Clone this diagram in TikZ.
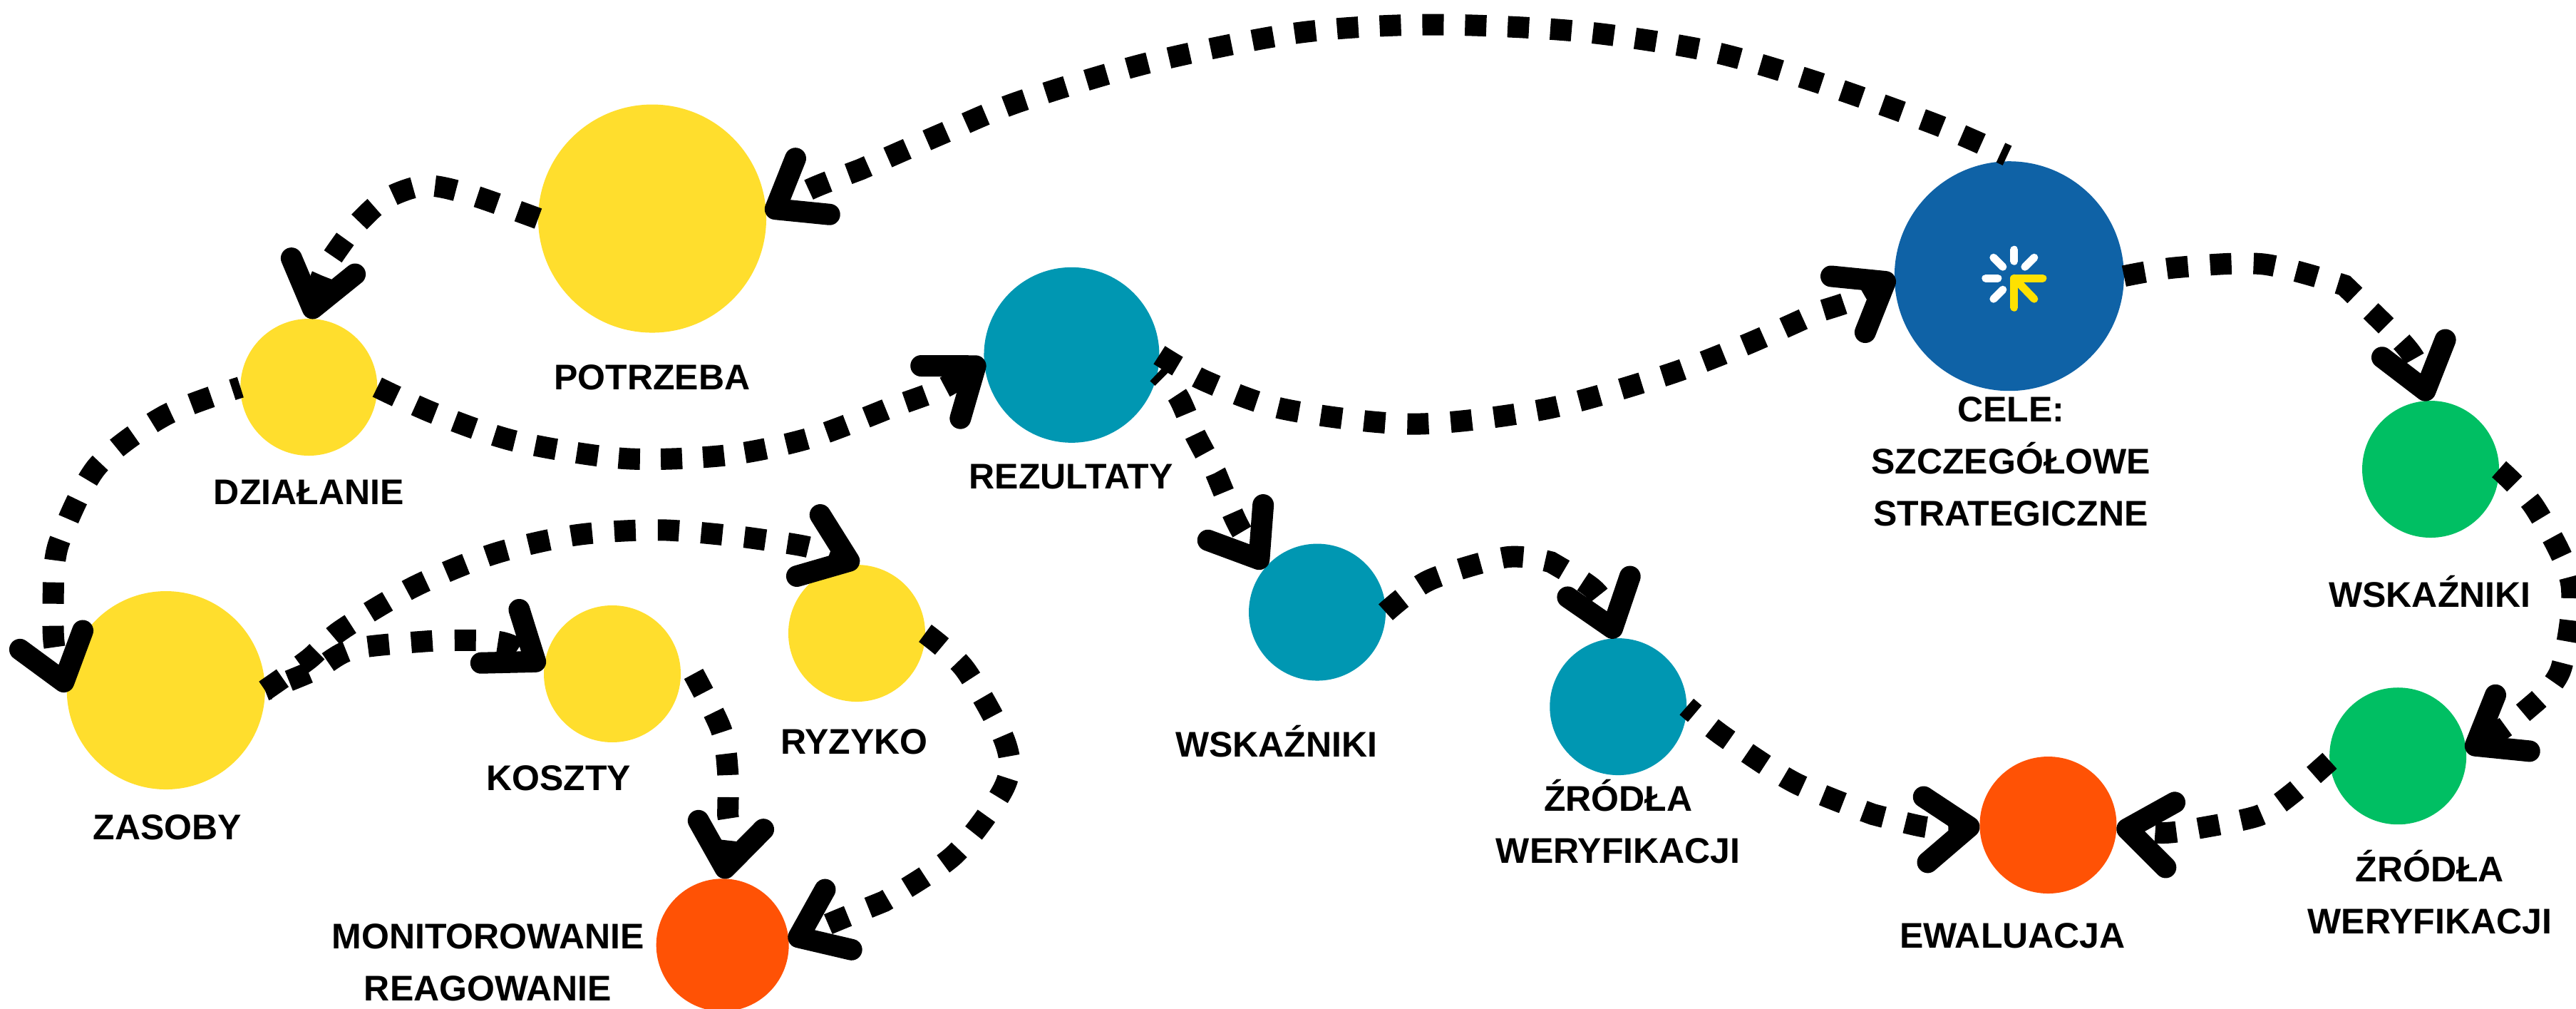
\documentclass[tikz,border=0pt]{standalone}
\usepackage{fontspec}
\setmainfont{Liberation Sans}
\usetikzlibrary{arrows.meta}
\definecolor{cyel}{HTML}{FFDE2D}
\definecolor{cteal}{HTML}{0097B2}
\definecolor{cblue}{HTML}{0F62A6}
\definecolor{cgreen}{HTML}{00BF63}
\definecolor{corange}{HTML}{FF5205}
\definecolor{cicon}{HTML}{FFE100}
\tikzset{
 dot/.style={circle,inner sep=0pt,outer sep=0pt,draw=none,minimum size=#1},
 lab/.style={inner sep=0pt,align=center,font=\fontsize{50}{73}\selectfont\bfseries},
 conn/.style={draw=black,line width=30pt,dash pattern=on 30pt off 31pt,
   -{Straight Barb[length=61pt,width=92pt,line width=30pt,round]}},
 ray/.style={line width=11pt,line cap=round,line join=round},
}
\begin{document}
\begin{tikzpicture}[x=2.3048pt,y=-2.3048pt]
\useasboundingbox (0,0) rectangle (1568,613.5);
\path
 (397,133) node[dot=320pt,fill=cyel] (potrzeba) {}
 (188,235.6) node[dot=192pt,fill=cyel] (dzial) {}
 (101,420) node[dot=278pt,fill=cyel] (zasoby) {}
 (372.7,410) node[dot=192pt,fill=cyel] (koszty) {}
 (521.5,385.3) node[dot=192pt,fill=cyel] (ryzyko) {}
 (439.8,575) node[dot=186pt,fill=corange] (monit) {}
 (652.3,216) node[dot=246pt,fill=cteal] (rezul) {}
 (801.8,372.5) node[dot=192pt,fill=cteal] (wskb) {}
 (985,430) node[dot=192pt,fill=cteal] (zrob) {}
 (1223,168) node[dot=322pt,fill=cblue] (cele) {}
 (1246.7,502) node[dot=192pt,fill=corange] (ewal) {}
 (1479.5,285.5) node[dot=192pt,fill=cgreen] (wskg) {}
 (1459.6,460) node[dot=192pt,fill=cgreen] (zrog) {};
% labels
\node[lab] (l1) at (397,229.5) {POTRZEBA};
\node[lab] (l2) at (188,299.5) {DZIAŁANIE};
\node[lab] (l3) at (652,290) {REZULTATY};
\node[lab] (l4) at (1224,281) {CELE:\\SZCZEGÓŁOWE\\STRATEGICZNE};
\node[lab] (l5) at (1479,360) {WSKAŹNIKI};
\node[lab] (l6) at (777,451) {WSKAŹNIKI};
\node[lab] (l7) at (985,500) {ŹRÓDŁA\\WERYFIKACJI};
\node[lab] (l8) at (1479,543) {ŹRÓDŁA\\WERYFIKACJI};
\node[lab] (l9) at (1225,569.5) {EWALUACJA};
\node[lab] (l10) at (340,473.5) {KOSZTY};
\node[lab] (l11) at (520,451.5) {RYZYKO};
\node[lab] (l12) at (102,503.5) {ZASOBY};
\node[lab] (l13) at (297,585.5) {MONITOROWANIE\\REAGOWANIE};
% connectors
\draw[conn,dash pattern=on 30pt off 29.9pt,dash phase=20pt] plot[smooth] coordinates {([yshift=8pt]cele.91) (1179,76) (1106,50) (1040,31) (960,19) (870,15) (790,20) (700,38) (620,62) (572,82) (524,103)} .. controls (492,115) and (492,115) .. (potrzeba.2.5);
\draw[conn] plot[smooth] coordinates {(potrzeba.west) (285,118) (258,113) (233,122) (214,140)} .. controls (196,165) and (196,165) .. (dzial.89);
\draw[conn,dash phase=18pt] plot[smooth] coordinates {(dzial.west) (100,253) (59,284) (36,330) (32.5,356)} .. controls (32,392) and (32,392) .. (zasoby.181);
\draw[conn,dash pattern=on 30pt off 29.2pt] plot[smooth] coordinates {(dzial.east) (264.6,251.6) (314,268.5) (380,279) (442,277) (493,266.5) (542,248)} .. controls (575.5,236.4) and (575.5,236.4) .. (rezul.183.3);
\draw[conn] plot[smooth] coordinates {(rezul.east) (734,232) (782,249) (860,258) (940,249) (1013,228.6) (1062,210) (1109,189)} .. controls (1128.5,183) and (1128.5,183) .. (cele.180.5);
\draw[conn,dash phase=20pt] plot[smooth] coordinates {(rezul.-12) (717,241) (727.6,264.7) (740,287.7)} .. controls (753,319.4) and (753,319.4) .. (wskb.140.7);
\draw[conn] plot[smooth] coordinates {(wskb.east) (870,353) (917,339) (944,342)} .. controls (974,359.5) and (974,359.5) .. (zrob.92);
\draw[conn,dash phase=15pt] plot[smooth] coordinates {(zrob.east) (1048.6,447.7) (1092,476) (1140,495.5)} .. controls (1175,504.6) and (1175,504.6) .. (ewal.181);
\draw[conn] plot[smooth] coordinates {(cele.east) (1324.6,162.8) (1377.5,160.7) (1427,173.6)} .. controls (1470,215) and (1470,215) .. (wskg.92);
\draw[conn] plot[smooth] coordinates {(wskg.east) (1543,309) (1565,355) (1559,406.5) (1543.6,427)} .. controls (1526,442) and (1526,442) .. (zrog.4.2);
\draw[conn] plot[smooth] coordinates {(zrog.184) (1395,483) (1375.5,496) (1346.5,502.5)} .. controls (1318,507.6) and (1318,507.6) .. (ewal.-2);
\draw[conn] plot[smooth] coordinates {(zasoby.east) (188,401) (207.4,383.6) (252,357) (300.5,337) (351,325.5) (403,322.5) (454.7,327)} .. controls (493.4,332.4) and (493.4,332.4) .. (ryzyko.88.7);
\draw[conn,dash phase=25pt] plot[smooth] coordinates {(zasoby.east) (192,407.5) (215.8,394.7) (267,389.7)} .. controls (307.4,389.3) and (307.4,389.3) .. (koszty.175);
\draw[conn] plot[smooth] coordinates {([xshift=18pt]koszty.east) (439,444) (443,469.7) (443,495.6)} .. controls (444.5,505) and (444.5,505) .. (monit.89.5);
\draw[conn] plot[smooth] coordinates {(ryzyko.east) (587.5,407.4) (612,452) (611.5,478.5) (581,520) (538,548.5)} .. controls (507,561) and (507,561) .. (monit.3.3);
% icon
\begin{scope}[shift={(cele.center)},shift={(7pt,-3pt)},x=1pt,y=-1pt]
 \draw[ray,white] (0,-40) -- (0,-24);
 \draw[ray,white] (15,-16) -- (28,-29);
 \draw[ray,white] (-16,-16) -- (-29,-29);
 \draw[ray,white] (-23,0) -- (-40,0);
 \draw[ray,white] (-16,16) -- (-29,29);
 \draw[ray,cicon] (40,0) -- (0,0) -- (0,41);
 \draw[ray,cicon] (0,0) -- (28,29);
\end{scope}
\end{tikzpicture}
\end{document}
